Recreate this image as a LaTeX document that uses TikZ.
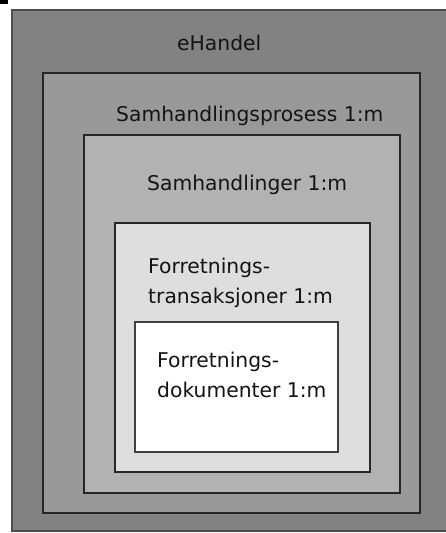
\documentclass[tikz,border=0pt]{standalone}
\usepackage{fontspec}
\setmainfont{DejaVu Sans}
\begin{document}
\begin{tikzpicture}[x=1pt,y=-1pt,
  layer/.style={draw=#1, line width=1.1pt, inner sep=0pt, outer sep=0pt, anchor=north west},
  caption/.style={anchor=base west, inner sep=0pt, font=\fontsize{20.3}{29.5}\selectfont, text=black!92, align=left}]
  \useasboundingbox[fill=white] (0,0) rectangle (445,533);
  % small dark mark in the corner
  \fill[black] (0,0) rectangle (8,4);
  % nested layers, outermost first
  \node[layer=black!70, fill=black!49, minimum width=440pt, minimum height=521pt] (ehandel) at (12,10) {};
  \node[layer=black!85, fill=black!40, minimum width=377pt, minimum height=440pt] (prosess) at (43,73) {};
  \node[layer=black!85, fill=black!30, minimum width=316pt, minimum height=358pt] (samh) at (84,135) {};
  \node[layer=black!85, fill=black!13, minimum width=255pt, minimum height=249pt] (trans) at (115,223) {};
  \node[layer=black!75, fill=white, minimum width=203pt, minimum height=130pt] (dok) at (135,322) {};
  % labels (two-line labels are placed by the baseline of their last line)
  \node[caption] (l-ehandel) at (177,50) {eHandel};
  \node[caption] (l-prosess) at (116,121) {Samhandlingsprosess 1:m};
  \node[caption] (l-samh) at (147,190) {Samhandlinger 1:m};
  \node[caption] (l-trans) at (148,303) {Forretnings-\\transaksjoner 1:m};
  \node[caption] (l-dok) at (157,397) {Forretnings-\\dokumenter 1:m};
\end{tikzpicture}
\end{document}
